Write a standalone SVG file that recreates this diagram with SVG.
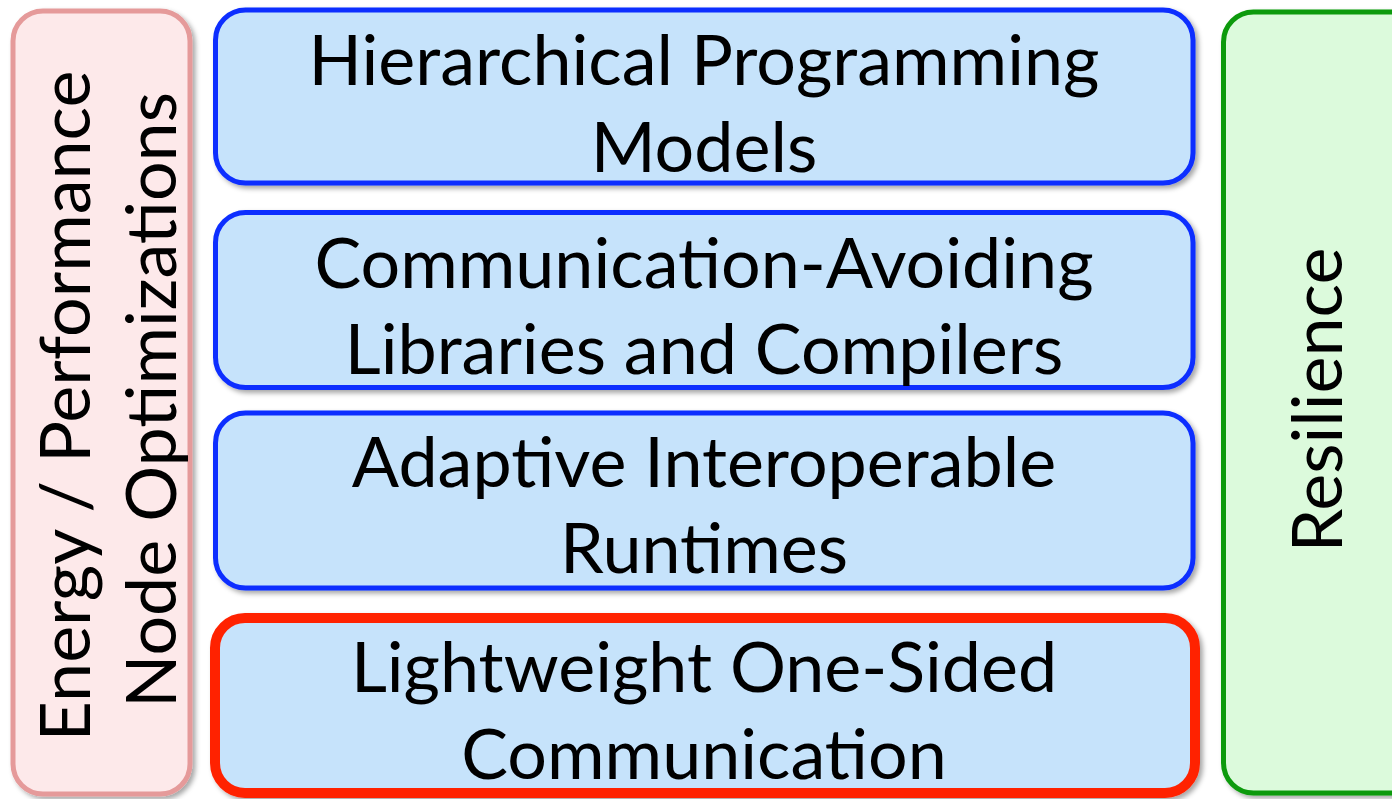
<svg xmlns="http://www.w3.org/2000/svg" width="1392" height="799" viewBox="0 0 1392 799">
<defs>
<filter id="sh" x="-10%" y="-10%" width="120%" height="120%">
<feDropShadow dx="3" dy="3" stdDeviation="2.5" flood-color="#000" flood-opacity="0.35"/>
</filter>
<style>
.t{font-family:Lato,"Open Sans","Liberation Sans",sans-serif;font-size:70px;fill:#000;text-anchor:middle}
.blue{fill:#c6e3fb;stroke:#0a2eff;stroke-width:5}
.red{fill:#c6e3fb;stroke:#ff2200;stroke-width:10}
</style>
</defs>
<rect width="1392" height="799" fill="#fff"/>
<g id="energy" filter="url(#sh)">
<rect x="13" y="11" width="177" height="783" rx="30" fill="#fde9ea" stroke="#e59a9a" stroke-width="5"/>
<text class="t" transform="translate(90,406) rotate(-90)">Energy / Performance</text>
<text class="t" transform="translate(176,400) rotate(-90)">Node Optimizations</text>
</g>
<g id="resilience" filter="url(#sh)">
<rect x="1223.5" y="12" width="200" height="781" rx="30" fill="#dcfadc" stroke="#0a9a0a" stroke-width="5"/>
<text class="t" transform="translate(1342,400) rotate(-90)">Resilience</text>
</g>
<g id="hpm" filter="url(#sh)">
<rect class="blue" x="215.5" y="10" width="977.5" height="173" rx="30"/>
<text class="t" x="704" y="85">Hierarchical Programming</text>
<text class="t" x="704" y="172">Models</text>
</g>
<g id="cal" filter="url(#sh)">
<rect class="blue" x="215.5" y="212.5" width="977.5" height="175" rx="30"/>
<text class="t" x="704" y="288">Communication-Avoiding</text>
<text class="t" x="704" y="374">Libraries and Compilers</text>
</g>
<g id="air" filter="url(#sh)">
<rect class="blue" x="215.5" y="413" width="977.5" height="175" rx="30"/>
<text class="t" x="704" y="487">Adaptive Interoperable</text>
<text class="t" x="704" y="573">Runtimes</text>
</g>
<g id="losc" filter="url(#sh)">
<rect class="red" x="215" y="618" width="980" height="175" rx="30"/>
<text class="t" x="704" y="692">Lightweight One-Sided</text>
<text class="t" x="704" y="779">Communication</text>
</g>
<g id="connectors"></g>
</svg>
